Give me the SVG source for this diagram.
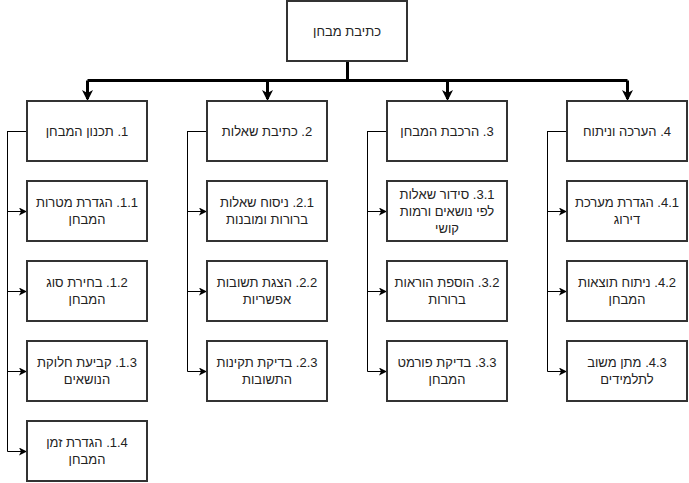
<svg xmlns="http://www.w3.org/2000/svg" width="689" height="483" viewBox="0 0 689 483">
<style>
.box{fill:#fff;stroke:#333;stroke-width:2}
.t{font-family:"Liberation Sans",Arial,"DejaVu Sans",sans-serif;font-size:13px;fill:#222;text-anchor:middle;direction:rtl;unicode-bidi:embed}
.main{fill:none;stroke:#000;stroke-width:3}
.sub{fill:none;stroke:#000;stroke-width:1}
</style>
<defs>
<marker id="big" markerUnits="userSpaceOnUse" viewBox="0 0 11 11" refX="9" refY="5.5" markerWidth="11" markerHeight="11" orient="auto">
<path d="M0,0 L11,5.5 L0,11 L3,5.5 z" fill="#000"/>
</marker>
<marker id="small" markerUnits="userSpaceOnUse" viewBox="0 0 8 8" refX="8" refY="4" markerWidth="8" markerHeight="8" orient="auto">
<path d="M0,0 L8,4 L0,8 L2,4 z" fill="#000"/>
</marker>
</defs>
<g id="connectors">
<path class="main" d="M347.5,61 V80.5"/>
<path class="main" d="M87.5,80.5 H627.5"/>
<path class="main" d="M87.5,80.5 V99" marker-end="url(#big)"/>
<path class="main" d="M267.5,80.5 V99" marker-end="url(#big)"/>
<path class="main" d="M447.5,80.5 V99" marker-end="url(#big)"/>
<path class="main" d="M627.5,80.5 V99" marker-end="url(#big)"/>
<path class="sub" d="M27,131.5 H7.5 V211.5 H27" marker-end="url(#small)"/>
<path class="sub" d="M27,131.5 H7.5 V291.5 H27" marker-end="url(#small)"/>
<path class="sub" d="M27,131.5 H7.5 V371.5 H27" marker-end="url(#small)"/>
<path class="sub" d="M27,131.5 H7.5 V451.5 H27" marker-end="url(#small)"/>
<path class="sub" d="M207,131.5 H187.5 V211.5 H207" marker-end="url(#small)"/>
<path class="sub" d="M207,131.5 H187.5 V291.5 H207" marker-end="url(#small)"/>
<path class="sub" d="M207,131.5 H187.5 V371.5 H207" marker-end="url(#small)"/>
<path class="sub" d="M387,131.5 H367.5 V211.5 H387" marker-end="url(#small)"/>
<path class="sub" d="M387,131.5 H367.5 V291.5 H387" marker-end="url(#small)"/>
<path class="sub" d="M387,131.5 H367.5 V371.5 H387" marker-end="url(#small)"/>
<path class="sub" d="M567,131.5 H547.5 V211.5 H567" marker-end="url(#small)"/>
<path class="sub" d="M567,131.5 H547.5 V291.5 H567" marker-end="url(#small)"/>
<path class="sub" d="M567,131.5 H547.5 V371.5 H567" marker-end="url(#small)"/>
</g>
<g id="root"><rect class="box" x="287" y="1" width="120" height="60"/><text class="t" x="347" y="35.5">כתיבת מבחן</text></g>

<g id="n1"><rect class="box" x="27" y="101" width="120" height="60"/><text class="t" x="87" y="135.5">1. תכנון המבחן</text></g>
<g id="n1_1"><rect class="box" x="27" y="181" width="120" height="60"/><text class="t" x="87" y="207">1.1. הגדרת מטרות</text><text class="t" x="87" y="224">המבחן</text></g>
<g id="n1_2"><rect class="box" x="27" y="261" width="120" height="60"/><text class="t" x="87" y="287">1.2. בחירת סוג</text><text class="t" x="87" y="304">המבחן</text></g>
<g id="n1_3"><rect class="box" x="27" y="341" width="120" height="60"/><text class="t" x="87" y="367">1.3. קביעת חלוקת</text><text class="t" x="87" y="384">הנושאים</text></g>
<g id="n1_4"><rect class="box" x="27" y="421" width="120" height="60"/><text class="t" x="87" y="447">1.4. הגדרת זמן</text><text class="t" x="87" y="464">המבחן</text></g>

<g id="n2"><rect class="box" x="207" y="101" width="120" height="60"/><text class="t" x="267" y="135.5">2. כתיבת שאלות</text></g>
<g id="n2_1"><rect class="box" x="207" y="181" width="120" height="60"/><text class="t" x="267" y="207">2.1. ניסוח שאלות</text><text class="t" x="267" y="224">ברורות ומובנות</text></g>
<g id="n2_2"><rect class="box" x="207" y="261" width="120" height="60"/><text class="t" x="267" y="287">2.2. הצגת תשובות</text><text class="t" x="267" y="304">אפשריות</text></g>
<g id="n2_3"><rect class="box" x="207" y="341" width="120" height="60"/><text class="t" x="267" y="367">2.3. בדיקת תקינות</text><text class="t" x="267" y="384">התשובות</text></g>

<g id="n3"><rect class="box" x="387" y="101" width="120" height="60"/><text class="t" x="447" y="135.5">3. הרכבת המבחן</text></g>
<g id="n3_1"><rect class="box" x="387" y="181" width="120" height="60"/><text class="t" x="447" y="199">3.1. סידור שאלות</text><text class="t" x="447" y="216">לפי נושאים ורמות</text><text class="t" x="447" y="233">קושי</text></g>
<g id="n3_2"><rect class="box" x="387" y="261" width="120" height="60"/><text class="t" x="447" y="287">3.2. הוספת הוראות</text><text class="t" x="447" y="304">ברורות</text></g>
<g id="n3_3"><rect class="box" x="387" y="341" width="120" height="60"/><text class="t" x="447" y="367">3.3. בדיקת פורמט</text><text class="t" x="447" y="384">המבחן</text></g>

<g id="n4"><rect class="box" x="567" y="101" width="120" height="60"/><text class="t" x="627" y="135.5">4. הערכה וניתוח</text></g>
<g id="n4_1"><rect class="box" x="567" y="181" width="120" height="60"/><text class="t" x="627" y="207">4.1. הגדרת מערכת</text><text class="t" x="627" y="224">דירוג</text></g>
<g id="n4_2"><rect class="box" x="567" y="261" width="120" height="60"/><text class="t" x="627" y="287">4.2. ניתוח תוצאות</text><text class="t" x="627" y="304">המבחן</text></g>
<g id="n4_3"><rect class="box" x="567" y="341" width="120" height="60"/><text class="t" x="627" y="367">4.3. מתן משוב</text><text class="t" x="627" y="384">לתלמידים</text></g>
</svg>
